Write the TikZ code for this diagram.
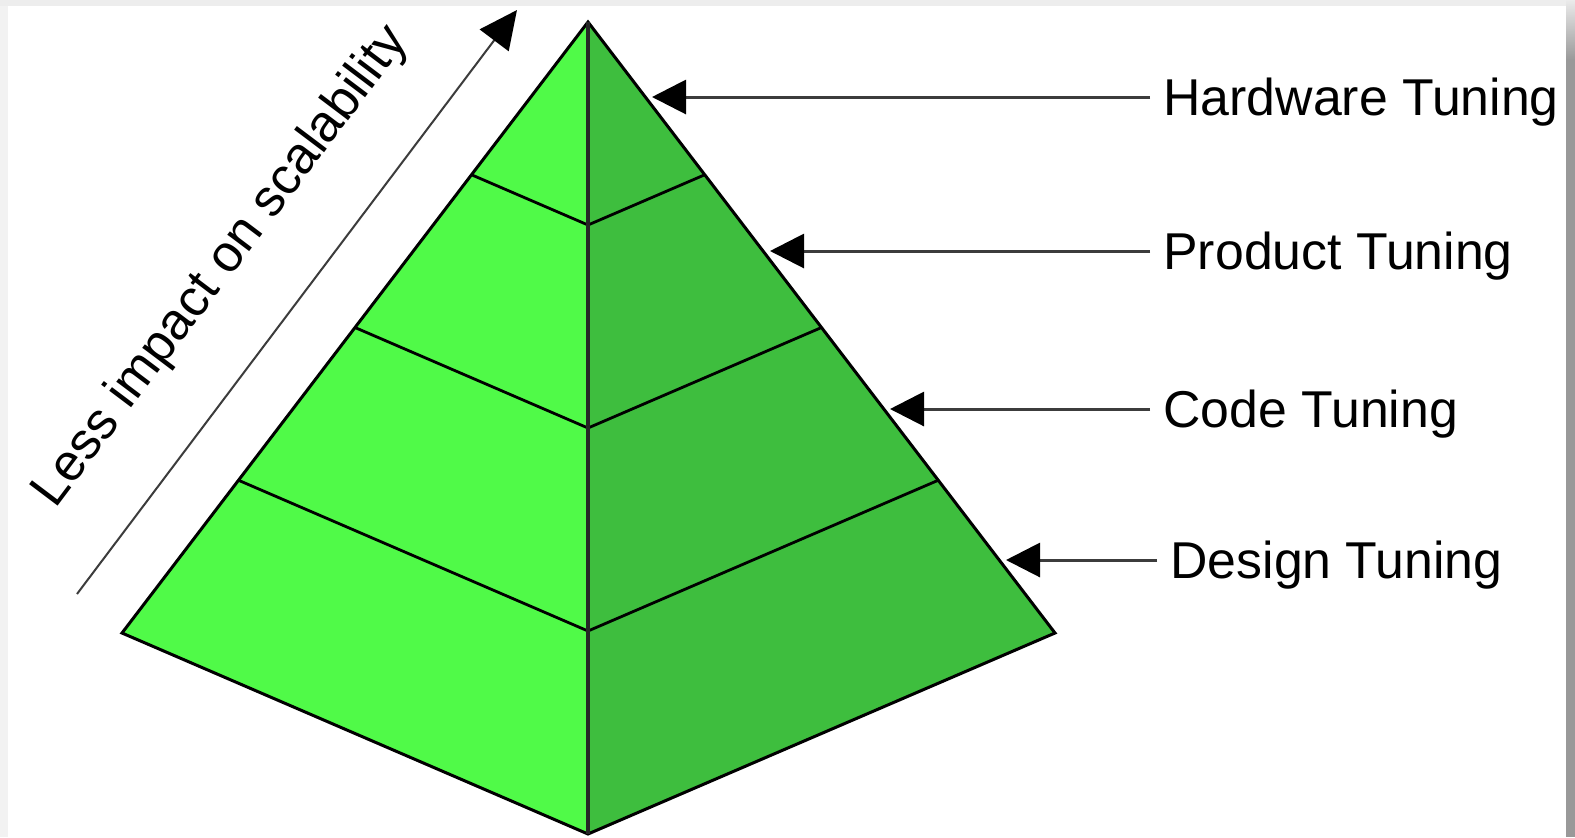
\documentclass[tikz,border=0pt]{standalone}
\usepackage{fontspec}
\setmainfont{Liberation Sans}
\usetikzlibrary{arrows.meta,calc}

\definecolor{face left}{RGB}{80,250,72}
\definecolor{face right}{RGB}{62,190,62}
\definecolor{wire}{RGB}{60,60,60}

\begin{document}
\begin{tikzpicture}[
    x=0.5pt, y=-0.5pt,
    node font=\fontsize{25.9}{30}\selectfont,
    edge line/.style={line width=1.5pt, black, line join=miter},
    layer line/.style={line width=1.4pt, black},
    tuning label/.style={anchor=west, inner xsep=6.5pt, inner ysep=0pt, text height=0.72em, text depth=0pt},
    pointer/.style={-{Triangle[length=17pt, width=17pt, color=black]}, line width=1.5pt, draw=wire},
    trend arrow/.style={-{Triangle[length=19pt, width=18pt, color=black]}, line width=1pt, draw=wire},
]

% Frame and shadow strips
\useasboundingbox (0,0) rectangle (1575,837);
\fill[white] (0,0) rectangle (1575,837);
\fill[black!7] (0,0) rectangle (1566,6);
\fill[black!5] (0,6) rectangle (8,837);
\shade[top color=black!8, bottom color=black!40] (1566,0) rectangle (1575,60);
\fill[black!40] (1566,60) rectangle (1575,837);

% Pyramid corners
\coordinate (apex) at (588,22);
\coordinate (left) at (122,633);
\coordinate (right) at (1055,633);
\coordinate (bottom) at (588,834);

% Faces
\fill[face left] (apex) -- (left) -- (bottom) -- cycle;
\fill[face right] (apex) -- (right) -- (bottom) -- cycle;

% Layer lines
\foreach \t in {0.25,0.5,0.75}
    \draw[layer line] ($(apex)!\t!(left)$) -- ($(apex)!\t!(bottom)$) -- ($(apex)!\t!(right)$);

% Outline and front edge
\draw[edge line] (apex) -- (left) -- (bottom) -- (right) -- cycle;
\draw[line width=2pt, black!85] (apex) -- (bottom);

% Labels
\node[tuning label] (hardware) at (1150,97) {Hardware Tuning};
\node[tuning label] (product) at (1150,251) {Product Tuning};
\node[tuning label] (code) at (1150,409) {Code Tuning};
\node[tuning label] (design) at (1157,560) {Design Tuning};

% Arrow tips on the right edge
\coordinate (hardware tip) at (652,97);
\coordinate (product tip) at (770,251);
\coordinate (code tip) at (890,409);
\coordinate (design tip) at (1006,560);

\draw[pointer] (hardware.west) -- (hardware tip);
\draw[pointer] (product.west) -- (product tip);
\draw[pointer] (code.west) -- (code tip);
\draw[pointer] (design.west) -- (design tip);

% Scalability arrow
\coordinate (trend start) at (77,594);
\coordinate (trend end) at (517,10);
\draw[trend arrow] (trend start) -- (trend end);
\node[rotate=53, anchor=base west, inner sep=0pt] (impact) at (55,510) {Less impact on scalability};

\end{tikzpicture}
\end{document}
